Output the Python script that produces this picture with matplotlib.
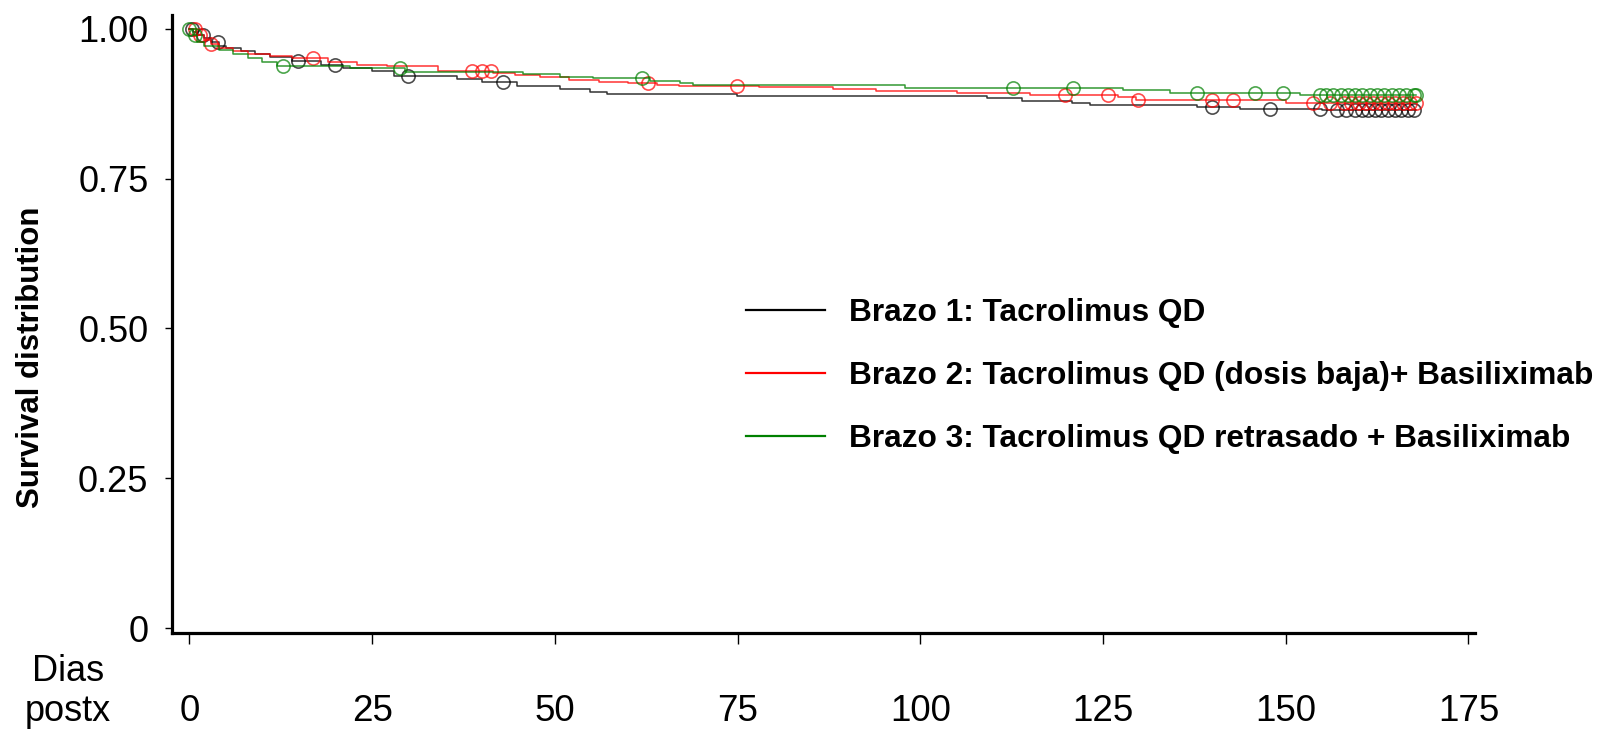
import numpy as np
import matplotlib
matplotlib.use("Agg")
import matplotlib.pyplot as plt

plt.rcParams['font.family'] = ['Liberation Sans', 'DejaVu Sans']

# ---- data ----
end_day = 167.8

t_b1 = [0, 0.5, 1, 2, 3, 4, 5, 7, 9, 11, 14, 18, 21, 25, 28, 36.6, 40, 44.8,
        50.7, 54.8, 57.1, 74.9, 109.1, 113.9, 120.7, 123.2, 137.8, 143.7, 155]
s_b1 = [1.0, 0.995, 0.99, 0.985, 0.978, 0.972, 0.968, 0.963, 0.958, 0.952,
        0.946, 0.94, 0.935, 0.929, 0.921, 0.916, 0.9105, 0.905, 0.899, 0.894,
        0.891, 0.887, 0.884, 0.880, 0.876, 0.873, 0.869, 0.866, 0.864]
c_b1 = [0.3, 1.9, 3.9, 14.9, 19.9, 29.9, 42.9, 139.9, 147.8, 154.7, 157,
        158.3, 159.5, 160.4, 161.3, 162.2, 163.1, 164, 164.9, 165.8, 166.7, 167.5]

t_b2 = [0, 1, 2, 3, 4, 6, 8, 11, 14, 19, 23, 27, 34, 41.5, 44.5, 48, 52, 56,
        60, 64, 67, 78, 88, 94, 105, 115, 127, 129.5, 150]
s_b2 = [1.0, 0.99, 0.982, 0.975, 0.968, 0.963, 0.958, 0.954, 0.951, 0.945,
        0.94, 0.937, 0.93, 0.926, 0.922, 0.919, 0.915, 0.911, 0.909, 0.9065,
        0.905, 0.9027, 0.899, 0.8965, 0.893, 0.889, 0.8865, 0.881, 0.876]
c_b2 = [0.75, 1.5, 3, 16.9, 38.6, 40.0, 41.3, 62.7, 74.9, 119.8, 125.7, 129.8,
        139.9, 142.8, 153.8, 156, 158, 159, 160, 161, 162, 163, 164, 165, 166,
        167, 167.8]

t_b3 = [0, 0.5, 1, 2, 4, 6, 8, 10, 12, 22, 29.5, 45.6, 50.7, 55.2, 63, 67.1,
        68.9, 97.9, 127.8, 134.2, 152]
s_b3 = [1.0, 0.99, 0.978, 0.972, 0.965, 0.958, 0.951, 0.945, 0.9375, 0.934,
        0.928, 0.924, 0.920, 0.9177, 0.912, 0.909, 0.906, 0.901, 0.898, 0.8935,
        0.8895]
c_b3 = [0, 0.75, 12.8, 28.8, 61.9, 112.7, 120.9, 137.8, 145.8, 149.6, 154.7,
        155.5, 156.5, 157.5, 158.5, 159.5, 160.5, 161.5, 162.5, 163.5, 164.5,
        165.5, 166.5, 167.5, 167.8]

labels = ["Brazo 1: Tacrolimus QD",
          "Brazo 2: Tacrolimus QD (dosis baja)+ Basiliximab",
          "Brazo 3: Tacrolimus QD retrasado + Basiliximab"]
colors = ["#000000", "#ff0000", "#008000"]

x_ticks = [0, 25, 50, 75, 100, 125, 150, 175]
y_ticks = [0, 0.25, 0.5, 0.75, 1.0]
y_ticklabels = ["0", "0.25", "0.50", "0.75", "1.00"]

# ---- figure ----
W, H = 1606, 731
fig = plt.figure(figsize=(W / 100, H / 100), dpi=100)
L, R, T, B = 172, 1475, 15, 633
ax = fig.add_axes([L / W, 1 - B / H, (R - L) / W, (B - T) / H])

series = [(t_b1, s_b1, c_b1), (t_b2, s_b2, c_b2), (t_b3, s_b3, c_b3)]
handles = []
for (t, s, c), col, lab in zip(series, colors, labels):
    t = np.asarray(t, float)
    s = np.asarray(s, float)
    tt = np.append(t, end_day)
    ss = np.append(s, s[-1])
    ax.step(tt, ss, where='post', color=col, lw=1.1, alpha=0.8)
    c = np.asarray(c, float)
    idx = np.searchsorted(t, c, side='right') - 1
    ax.plot(c, s[idx], 'o', ms=9.5, mfc='none', mec=col, mew=1.2, alpha=0.7)
    h, = ax.plot([], [], color=col, lw=1.6, label=lab)
    handles.append(h)

ax.set_xlim(-2.38, 175.9)
ax.set_ylim(-0.0083, 1.0229)
ax.set_xticks(x_ticks)
ax.set_xticklabels([str(v) for v in x_ticks])
ax.set_yticks(y_ticks)
ax.set_yticklabels(y_ticklabels)

for side in ['top', 'right']:
    ax.spines[side].set_visible(False)
for side in ['left', 'bottom']:
    ax.spines[side].set_linewidth(2.3)
ax.tick_params(axis='x', length=8, width=1, pad=36, labelsize=26.5)
ax.tick_params(axis='y', length=5, width=1, pad=12, labelsize=26)

ax.set_ylabel("Survival distribution", fontsize=22.5, fontweight='bold', va='center')
ax.yaxis.set_label_coords((31 - L) / (R - L), (B - 357) / (B - T))

fig.text(68 / W, 1 - 681 / H, "Dias", ha='center', va='baseline', fontsize=26)
fig.text(68 / W, 1 - 721 / H, "postx", ha='center', va='baseline', fontsize=26)

leg = ax.legend(handles=handles, loc='center left',
                bbox_to_anchor=(745.6 / W, 1 - 376 / H),
                bbox_transform=fig.transFigure, frameon=False,
                prop={'weight': 'bold', 'size': 22.8},
                handlelength=2.52, handletextpad=0.74, labelspacing=1.05,
                borderpad=0, borderaxespad=0)

fig.savefig("out.png", dpi=100)
